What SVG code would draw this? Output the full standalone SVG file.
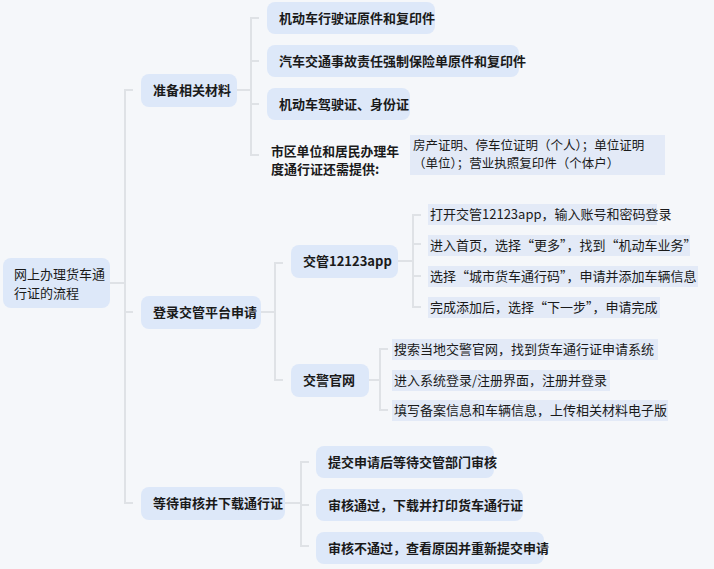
<svg xmlns="http://www.w3.org/2000/svg" width="714" height="569" viewBox="0 0 714 569">
<style>
.n{fill:#dde8f9}
.l{fill:#e3eaf7}
text{font-family:"Noto Sans CJK SC","Noto Sans",sans-serif;font-size:13px;fill:#1a1a1a}
.s{font-size:12.5px}
.b{font-weight:600}
.c path{fill:none;stroke:#dfe2e6;stroke-width:2}
</style>
<rect width="714" height="569" fill="#f5f7fa"/>
<g class="c">
<path d="M110 283H125M133 90H125V503H133M125 312H133"/>
<path d="M237 90H251M259 18H251V155H259M251 61H259M251 104H259"/>
<path d="M261 312H275M283 263H275V380H283"/>
<path d="M398 261H413M421 215H413V307H421M413 244H421M413 276H421"/>
<path d="M369 380H380M388 349H380V410H388"/>
<path d="M285 503H301M309 462H301V546H309M301 505H309"/>
</g>
<g id="root"><rect class="n" x="3" y="258" width="107" height="50" rx="8"/><text x="14" y="279">网上办理货车通</text><text x="14" y="298">行证的流程</text></g>
<g id="prep"><rect class="n" x="141" y="74" width="96" height="33" rx="8"/><text class="b" x="153" y="95">准备相关材料</text></g>
<g id="p1"><rect class="n" x="267" y="2" width="168" height="32" rx="8"/><text class="b" x="279" y="23">机动车行驶证原件和复印件</text></g>
<g id="p2"><rect class="n" x="267" y="45" width="252" height="32" rx="8"/><text class="b" x="279" y="66">汽车交通事故责任强制保险单原件和复印件</text></g>
<g id="p3"><rect class="n" x="267" y="88" width="143" height="32" rx="8"/><text class="b" x="279" y="109">机动车驾驶证、身份证</text></g>
<g id="p4"><text class="b" x="271" y="156" textLength="128" lengthAdjust="spacingAndGlyphs">市区单位和居民办理年</text><text class="b" x="271" y="174">度通行证还需提供:</text></g>
<g id="p4a"><rect class="l" x="410" y="135" width="255" height="40"/><text class="s" x="413" y="150">房产证明、停车位证明（个人）；单位证明</text><text class="s" x="413" y="168">（单位）；营业执照复印件（个体户）</text></g>
<g id="login"><rect class="n" x="141" y="296" width="120" height="33" rx="8"/><text class="b" x="153" y="317">登录交管平台申请</text></g>
<g id="app"><rect class="n" x="291" y="245" width="107" height="33" rx="8"/><text class="b" x="303" y="266">交管12123app</text></g>
<g id="a1"><rect class="l" x="428" y="204" width="229" height="21"/><text x="430" y="219">打开交管12123app，输入账号和密码登录</text></g>
<g id="a2"><rect class="l" x="428" y="235" width="262" height="21"/><text x="430" y="250">进入首页，选择“更多”，找到“机动车业务”</text></g>
<g id="a3"><rect class="l" x="428" y="266" width="270" height="21"/><text x="430" y="281">选择“城市货车通行码”，申请并添加车辆信息</text></g>
<g id="a4"><rect class="l" x="428" y="297" width="232" height="21"/><text x="430" y="312">完成添加后，选择“下一步”，申请完成</text></g>
<g id="web"><rect class="n" x="291" y="364" width="78" height="33" rx="8"/><text class="b" x="303" y="385">交警官网</text></g>
<g id="w1"><rect class="l" x="392" y="339" width="266" height="21"/><text x="394" y="354">搜索当地交警官网，找到货车通行证申请系统</text></g>
<g id="w2"><rect class="l" x="392" y="370" width="218" height="21"/><text x="394" y="385">进入系统登录/注册界面，注册并登录</text></g>
<g id="w3"><rect class="l" x="392" y="400" width="276" height="21"/><text x="394" y="415">填写备案信息和车辆信息，上传相关材料电子版</text></g>
<g id="wait"><rect class="n" x="141" y="487" width="144" height="33" rx="8"/><text class="b" x="153" y="508">等待审核并下载通行证</text></g>
<g id="s1"><rect class="n" x="316" y="446" width="178" height="32" rx="8"/><text class="b" x="328" y="467">提交申请后等待交管部门审核</text></g>
<g id="s2"><rect class="n" x="316" y="489" width="207" height="32" rx="8"/><text class="b" x="328" y="510">审核通过，下载并打印货车通行证</text></g>
<g id="s3"><rect class="n" x="316" y="532" width="228" height="32" rx="8"/><text class="b" x="328" y="553">审核不通过，查看原因并重新提交申请</text></g>
</svg>
